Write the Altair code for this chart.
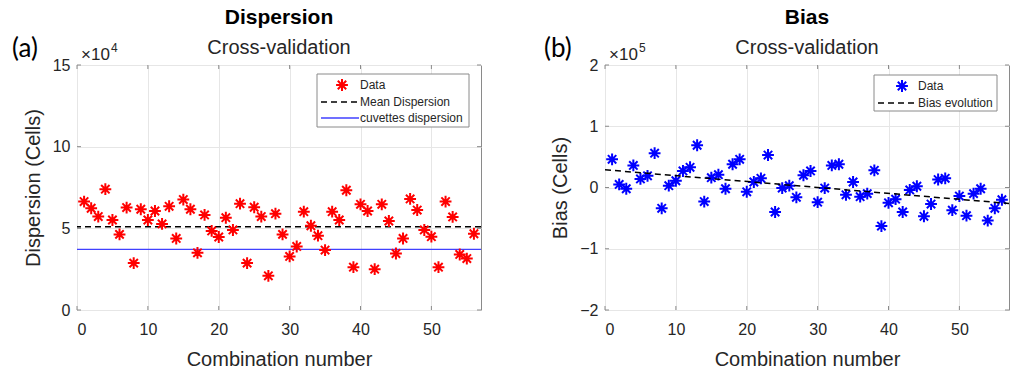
import altair as alt
import pandas as pd

# ---------------- data ----------------
combo = list(range(1, 57))
# Dispersion values, in units of 1e4 cells
dispersion = [6.64, 6.23, 5.72, 7.40, 5.51, 4.63, 6.27, 2.87, 6.17, 5.51,
              6.06, 5.27, 6.35, 4.38, 6.76, 6.17, 3.50, 5.82, 4.84, 4.47,
              5.65, 4.90, 6.51, 2.87, 6.29, 5.72, 2.09, 5.90, 4.63, 3.28,
              3.89, 6.02, 5.16, 4.55, 3.67, 6.02, 5.51, 7.33, 2.62, 6.47,
              6.06, 2.50, 6.47, 5.45, 3.46, 4.38, 6.80, 6.12, 4.90, 4.49,
              2.62, 6.64, 5.70, 3.40, 3.15, 4.67]
mean_dispersion = [5.10]
cuvettes_dispersion = [3.71]
# Bias values, in units of 1e5 cells
bias = [0.46, 0.05, -0.02, 0.36, 0.14, 0.19, 0.56, -0.34, 0.03, 0.11,
        0.27, 0.33, 0.69, -0.23, 0.16, 0.21, -0.02, 0.38, 0.46, -0.07,
        0.09, 0.15, 0.53, -0.40, -0.01, 0.03, -0.16, 0.20, 0.27, -0.24,
        -0.01, 0.36, 0.38, -0.12, 0.09, -0.15, -0.10, 0.28, -0.63, -0.25,
        -0.19, -0.40, -0.04, 0.02, -0.47, -0.27, 0.13, 0.15, -0.37, -0.14,
        -0.46, -0.10, -0.02, -0.54, -0.34, -0.20]
trend_x = [0, 57]
trend_y = [0.29, -0.26]

x_ticks = [0, 10, 20, 30, 40, 50]
disp_ticks = [0, 5, 10, 15]
bias_ticks = [-2, -1, 0, 1, 2]

# ---------------- style ----------------
FONT = "Liberation Sans"
TXT = "#262626"
BOX = "#8a8a8a"
W, H = 404, 245
AST = "M-1,0L1,0M0,-1L0,1M-0.71,-0.71L0.71,0.71M-0.71,0.71L0.71,-0.71"
MSIZE = 140
MSW = 2.0

one = pd.DataFrame({"k": [0]})


def xenc():
    return alt.X("n:Q", scale=alt.Scale(domain=[0, 57], nice=False, zero=False),
                 axis=alt.Axis(values=x_ticks, title="Combination number", format="d",
                               labelPadding=11, titlePadding=12))


def tick_layers(yticks, yfield_scale):
    xt = alt.Chart(pd.DataFrame({"n": x_ticks}))
    yt = alt.Chart(pd.DataFrame({"v": yticks}))
    yenc = alt.Y("v:Q", scale=yfield_scale)
    return [
        xt.mark_rule(color=BOX, strokeWidth=1).encode(x=alt.X("n:Q"), y=alt.value(H), y2=alt.value(H - 4)),
        xt.mark_rule(color=BOX, strokeWidth=1).encode(x=alt.X("n:Q"), y=alt.value(0), y2=alt.value(4)),
        yt.mark_rule(color=BOX, strokeWidth=1).encode(y=yenc, x=alt.value(0), x2=alt.value(4)),
        yt.mark_rule(color=BOX, strokeWidth=1).encode(y=yenc, x=alt.value(W - 4), x2=alt.value(W)),
    ]


def txt(s, x, y, size, font=FONT, color=TXT, align="left", weight="normal"):
    return alt.Chart(one).mark_text(text=s, font=font, fontSize=size, color=color, align=align,
                                    baseline="alphabetic", fontWeight=weight).encode(
        x=alt.value(x), y=alt.value(y))


def title(main):
    return alt.TitleParams(main, subtitle="Cross-validation", anchor="middle",
                           fontSize=21, fontWeight="bold", color="black", font=FONT,
                           subtitleFontSize=20, subtitleColor=TXT, subtitleFont=FONT,
                           subtitlePadding=10, offset=-22)


# ---------------- left panel: Dispersion ----------------
yscale1 = alt.Scale(domain=[0, 15], nice=False, zero=False)
d1 = pd.DataFrame({"n": combo, "v": dispersion})
pts1 = alt.Chart(d1).mark_point(shape=AST, filled=False, color="#ff0000", strokeWidth=MSW,
                                size=MSIZE, opacity=1).encode(
    x=xenc(),
    y=alt.Y("v:Q", scale=yscale1,
            axis=alt.Axis(values=disp_ticks, title="Dispersion (Cells)", format="d")))
mean1 = alt.Chart(pd.DataFrame({"v": mean_dispersion})).mark_rule(
    color="black", strokeDash=[6, 4], strokeWidth=1.5).encode(y=alt.Y("v:Q", scale=yscale1))
cuv1 = alt.Chart(pd.DataFrame({"v": cuvettes_dispersion})).mark_rule(
    color="#4040ff", strokeWidth=1.3).encode(y=alt.Y("v:Q", scale=yscale1))

leg1 = [
    alt.Chart(one).mark_rect(fill="white", stroke=BOX, strokeWidth=1).encode(
        x=alt.value(240), x2=alt.value(392), y=alt.value(9), y2=alt.value(62)),
    alt.Chart(one).mark_point(shape=AST, filled=False, color="#ff0000", strokeWidth=MSW,
                              size=MSIZE, opacity=1).encode(x=alt.value(265), y=alt.value(20)),
    alt.Chart(one).mark_rule(color="black", strokeDash=[6, 4], strokeWidth=1.5).encode(
        x=alt.value(244), x2=alt.value(282), y=alt.value(37)),
    alt.Chart(one).mark_rule(color="#4040ff", strokeWidth=1.3).encode(
        x=alt.value(244), x2=alt.value(282), y=alt.value(53)),
    txt("Data", 283, 24, 12),
    txt("Mean Dispersion", 283, 41, 12),
    txt("cuvettes dispersion", 283, 57, 12),
]
ann1 = [
    txt("(a)", -65, -8, 26, font="Lato", color="black"),
    txt("\u00d710", 4, -5, 17, color=TXT),
    txt("4", 34, -13, 12, color=TXT),
]

left = alt.layer(*tick_layers(disp_ticks, yscale1), cuv1, mean1, pts1, *leg1, *ann1).properties(
    width=W, height=H, title=title("Dispersion"))

# ---------------- right panel: Bias ----------------
yscale2 = alt.Scale(domain=[-2, 2], nice=False, zero=False)
d2 = pd.DataFrame({"n": combo, "v": bias})
pts2 = alt.Chart(d2).mark_point(shape=AST, filled=False, color="#0000ff", strokeWidth=MSW,
                                size=MSIZE, opacity=1).encode(
    x=xenc(),
    y=alt.Y("v:Q", scale=yscale2,
            axis=alt.Axis(values=bias_ticks, title="Bias (Cells)", format="d")))
trend = alt.Chart(pd.DataFrame({"n": trend_x, "v": trend_y})).mark_line(
    color="black", strokeDash=[6, 4], strokeWidth=1.5).encode(
    x=alt.X("n:Q"), y=alt.Y("v:Q", scale=yscale2))

leg2 = [
    alt.Chart(one).mark_rect(fill="white", stroke=BOX, strokeWidth=1).encode(
        x=alt.value(269), x2=alt.value(392), y=alt.value(10), y2=alt.value(46)),
    alt.Chart(one).mark_point(shape=AST, filled=False, color="#0000ff", strokeWidth=MSW,
                              size=MSIZE, opacity=1).encode(x=alt.value(297), y=alt.value(21)),
    alt.Chart(one).mark_rule(color="black", strokeDash=[6, 4], strokeWidth=1.5).encode(
        x=alt.value(273), x2=alt.value(312), y=alt.value(38)),
    txt("Data", 313, 25, 12),
    txt("Bias evolution", 313, 42, 12),
]
ann2 = [
    txt("(b)", -61, -8, 26, font="Lato", color="black"),
    txt("\u00d710", 4, -5, 17, color=TXT),
    txt("5", 34, -13, 12, color=TXT),
]

right = alt.layer(*tick_layers(bias_ticks, yscale2), pts2, trend, *leg2, *ann2).properties(
    width=W, height=H, title=title("Bias"))

chart = alt.hconcat(left, right, spacing=124, bounds="flush").properties(
    padding={"left": 11, "top": 6, "right": 0, "bottom": 0}, background="white"
).configure_view(stroke=BOX, strokeWidth=1).configure_axis(
    domain=False, ticks=False, labelFont=FONT, labelFontSize=16, labelColor=TXT,
    labelPadding=7, titleFont=FONT, titleFontSize=20, titleFontWeight="normal",
    titleColor=TXT, titlePadding=9, gridColor="#e6e6e6", gridWidth=1
)

chart.save("out.html", embed_options={"renderer": "svg", "actions": False})
